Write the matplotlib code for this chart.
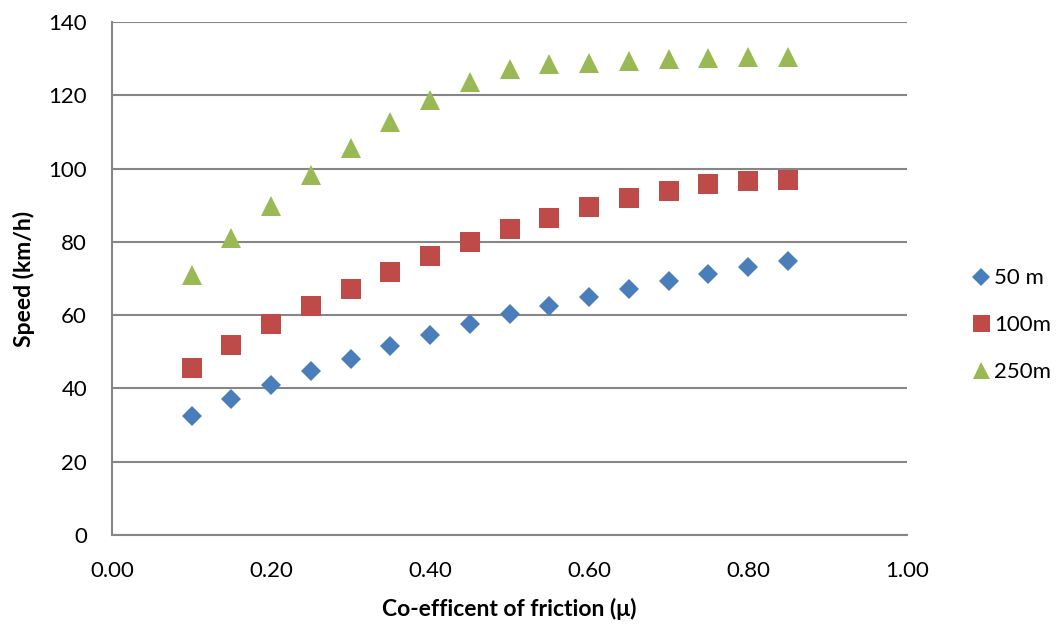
import matplotlib.pyplot as plt

plt.rcParams['font.family'] = ['Lato', 'DejaVu Sans']

mu = [0.10, 0.15, 0.20, 0.25, 0.30, 0.35, 0.40, 0.45,
      0.50, 0.55, 0.60, 0.65, 0.70, 0.75, 0.80, 0.85]

speed_50 = [32.5, 37.2, 41.0, 44.8, 48.0, 51.7, 54.7, 57.5,
            60.2, 62.6, 65.0, 67.1, 69.3, 71.3, 73.1, 74.8]
speed_100 = [45.5, 51.9, 57.5, 62.5, 67.1, 71.9, 76.1, 79.9,
             83.5, 86.6, 89.6, 92.0, 94.0, 95.8, 96.6, 96.8]
speed_250 = [71.0, 81.1, 89.8, 98.3, 105.5, 112.6, 118.6, 123.6,
             127.3, 128.5, 128.7, 129.3, 129.8, 130.2, 130.5, 130.5]

x_ticks = [0.0, 0.2, 0.4, 0.6, 0.8, 1.0]
y_ticks = [0, 20, 40, 60, 80, 100, 120, 140]

grey = '#868686'

fig = plt.figure(figsize=(10.59, 6.25), dpi=100)
ax = fig.add_axes([0.1058, 0.144, 0.7507, 0.8208])

ax.plot(mu, speed_50, 'D', color='#4a7ebb', markersize=10.2, label='50 m', markeredgewidth=0)
ax.plot(mu, speed_100, 's', color='#be4b48', markersize=14.4, label='100m', markeredgewidth=0)
ax.plot(mu, speed_250, '^', color='#98b954', markersize=14.4, label='250m', markeredgewidth=0)

ax.set_xlim(0, 1.0)
ax.set_ylim(0, 140)
ax.set_xticks(x_ticks)
ax.set_xticklabels([f'{t:.2f}' for t in x_ticks])
ax.set_yticks(y_ticks)
ax.tick_params(length=0, labelsize=16)
ax.tick_params(axis='y', pad=18)
ax.tick_params(axis='x', pad=19)

ax.grid(axis='y', color=grey, linewidth=1.5)
ax.set_axisbelow(True)
for side in ['top', 'right']:
    ax.spines[side].set_visible(False)
for side in ['left', 'bottom']:
    ax.spines[side].set_color(grey)
    ax.spines[side].set_linewidth(1.5)

ax.set_xlabel('Co-efficent of friction (μ)', fontsize=16.5, fontweight='bold', labelpad=12)
ax.set_ylabel('Speed (km/h)', fontsize=16.5, fontweight='bold', labelpad=10)

fig.legend(loc='center left', bbox_to_anchor=(0.896, 0.48), frameon=False,
           fontsize=16, handletextpad=0.05, labelspacing=1.2, handlelength=1.1,
           markerscale=0.85)

fig.savefig('out.png', dpi=100)
